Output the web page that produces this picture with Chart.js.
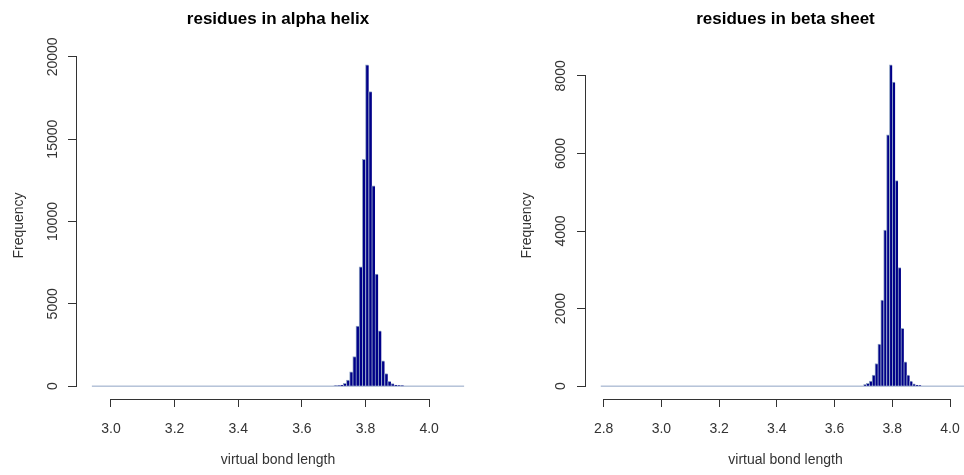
<!DOCTYPE html>
<html>
<head>
<meta charset="utf-8">
<script src="https://cdn.jsdelivr.net/npm/chart.js@4.4.0/dist/chart.umd.min.js"></script>
<style>
  html, body { margin: 0; padding: 0; background: #fff; overflow: hidden; width: 964px; height: 475px; }
  #alphaChart { position: absolute; left: 0; top: 0; }
  #betaChart { position: absolute; left: 482px; top: 0; }
</style>
</head>
<body>
<canvas id="alphaChart" width="482" height="475"></canvas>
<canvas id="betaChart" width="503" height="475"></canvas>
<script>
// histogram bins (lower break of each 0.01 wide bin) and counts
const binWidth = 0.01;

const alphaBreaks = [3.70, 3.71, 3.72, 3.73, 3.74, 3.75, 3.76, 3.77, 3.78, 3.79, 3.80,
                     3.81, 3.82, 3.83, 3.84, 3.85, 3.86, 3.87, 3.88, 3.89, 3.90, 3.91];
const alphaCounts = [20, 40, 60, 165, 365, 870, 1800, 3650, 7250, 13780, 19515,
                     17890, 12160, 6810, 3365, 1540, 770, 300, 160, 60, 30, 10];
const alphaRange = [2.94, 4.11];
const alphaXTicks = [3.0, 3.2, 3.4, 3.6, 3.8, 4.0];
const alphaYTicks = [0, 5000, 10000, 15000, 20000];

const betaBreaks = [3.70, 3.71, 3.72, 3.73, 3.74, 3.75, 3.76, 3.77, 3.78, 3.79,
                    3.80, 3.81, 3.82, 3.83, 3.84, 3.85, 3.86, 3.87, 3.88, 3.89];
const betaCounts = [40, 70, 130, 284, 585, 1084, 2219, 4026, 6477, 8284,
                    7837, 5299, 3054, 1488, 628, 284, 130, 60, 25, 10];
const betaRange = [2.79, 4.07];
const betaXTicks = [2.8, 3.0, 3.2, 3.4, 3.6, 3.8, 4.0];
const betaYTicks = [0, 2000, 4000, 6000, 8000];

const axisColor = '#333';
const font = 'Liberation Sans, Arial, sans-serif';

// R style axes: line only between first and last tick
const rAxes = {
    id: 'rAxes',
    afterDraw(chart) {
        const ctx = chart.ctx;
        const xs = chart.scales.x, ys = chart.scales.y, area = chart.chartArea;
        ctx.save();
        ctx.strokeStyle = axisColor;
        ctx.lineWidth = 1;
        ctx.beginPath();
        const yb = Math.round(area.bottom) + 0.5;
        ctx.moveTo(xs.getPixelForValue(xs.ticks[0].value), yb);
        ctx.lineTo(xs.getPixelForValue(xs.ticks[xs.ticks.length - 1].value), yb);
        const xl = Math.round(area.left) - 0.5;
        ctx.moveTo(xl, ys.getPixelForValue(ys.ticks[0].value));
        ctx.lineTo(xl, ys.getPixelForValue(ys.ticks[ys.ticks.length - 1].value));
        ctx.stroke();
        ctx.restore();
    }
};

function makeHist(id, title, breaks, counts, range, xTicks, yTicks, o) {
    const top = Math.max(...counts);
    const span = range[1] - range[0];
    const bars = breaks.map((b, i) => ({ x: b + binWidth / 2, y: counts[i] }));

    return new Chart(document.getElementById(id), {
        type: 'bar',
        data: {
            datasets: [{
                type: 'bar',
                data: bars,
                backgroundColor: '#000088',
                borderColor: '#8fa3c4',
                borderWidth: { left: 1, top: 1, right: 0, bottom: 0 },
                borderSkipped: false,
                barPercentage: 1,
                categoryPercentage: 1,
                order: 1
            }, {
                type: 'line',
                data: [{ x: range[0], y: 0 }, { x: range[1], y: 0 }],
                borderColor: '#8fa3c4',
                borderWidth: 1,
                pointRadius: 0,
                order: 2
            }]
        },
        options: {
            responsive: false,
            animation: false,
            layout: { padding: { left: 0, right: o.padRight, top: 0, bottom: 0 } },
            plugins: {
                legend: { display: false },
                tooltip: { enabled: false },
                title: {
                    display: true,
                    text: title,
                    color: '#000',
                    fullSize: false,
                    font: { family: font, size: 17, weight: 'bold' },
                    padding: { top: 9, bottom: 22.6 }
                }
            },
            scales: {
                x: {
                    type: 'linear',
                    offset: false,
                    min: range[0] - 0.04 * span,
                    max: range[1] + 0.04 * span,
                    afterBuildTicks: s => { s.ticks = xTicks.map(v => ({ value: v })); },
                    afterFit: s => { s.height = 76; },
                    border: { display: false },
                    grid: { drawOnChartArea: false, offset: false, tickLength: 8, color: axisColor },
                    ticks: {
                        color: axisColor,
                        font: { family: font, size: 14 },
                        padding: 14,
                        maxRotation: 0,
                        autoSkip: false,
                        callback: v => v.toFixed(1)
                    },
                    title: {
                        display: true,
                        text: 'virtual bond length',
                        color: axisColor,
                        font: { family: font, size: 14 },
                        padding: { top: 0, bottom: 6 }
                    }
                },
                y: {
                    min: -0.04 * top,
                    max: 1.04 * top,
                    afterBuildTicks: s => { s.ticks = yTicks.map(v => ({ value: v })); },
                    afterFit: s => { s.width = o.yWidth; },
                    border: { display: false },
                    grid: { drawOnChartArea: false, offset: false, tickLength: 9, color: axisColor },
                    ticks: {
                        color: axisColor,
                        font: { family: font, size: 14 },
                        minRotation: 90,
                        maxRotation: 90,
                        crossAlign: 'center',
                        padding: o.tickPad,
                        autoSkip: false,
                        callback: v => String(v)
                    },
                    title: {
                        display: true,
                        text: 'Frequency',
                        color: axisColor,
                        font: { family: font, size: 14 },
                        padding: { top: o.titlePad, bottom: 0 }
                    }
                }
            }
        },
        plugins: [rAxes]
    });
}

makeHist('alphaChart', 'residues in alpha helix', alphaBreaks, alphaCounts, alphaRange,
         alphaXTicks, alphaYTicks, { padRight: 3, yWidth: 77, tickPad: -5, titlePad: 10.6 });
makeHist('betaChart', 'residues in beta sheet', betaBreaks, betaCounts, betaRange,
         betaXTicks, betaYTicks, { padRight: 0, yWidth: 104, tickPad: 0, titlePad: 36.6 });
</script>
</body>
</html>
